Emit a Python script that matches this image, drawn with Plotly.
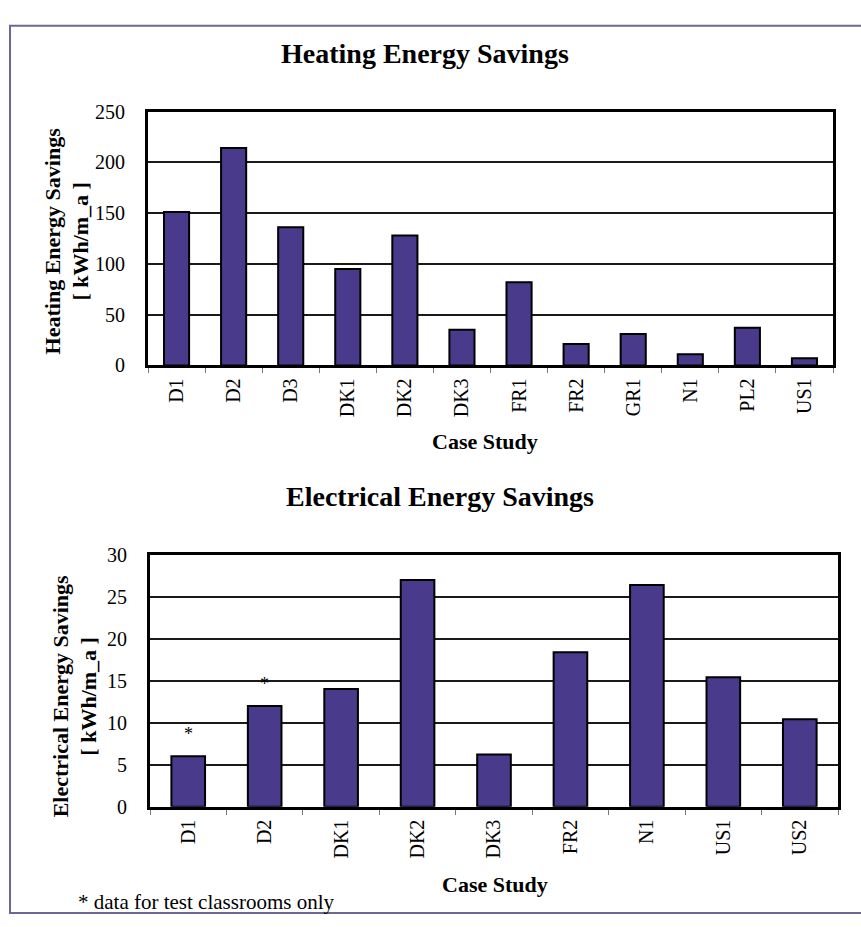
import plotly.graph_objects as go

# ---- data ----
heat_cases = ["D1", "D2", "D3", "DK1", "DK2", "DK3", "FR1", "FR2", "GR1", "N1", "PL2", "US1"]
heat_values = [151, 214, 136, 95, 128, 35, 82, 21, 31, 11, 37, 7]

elec_cases = ["D1", "D2", "DK1", "DK2", "DK3", "FR2", "N1", "US1", "US2"]
elec_values = [6.0, 12.0, 14.0, 27.0, 6.2, 18.4, 26.4, 15.4, 10.4]
elec_test_only = ["D1", "D2"]

heat_ticks = [0, 50, 100, 150, 200, 250]
elec_ticks = [0, 5, 10, 15, 20, 25, 30]

W, H = 861, 927
FONT = "Liberation Serif, Times New Roman, serif"
BAR = "#4a3a8c"

fig = go.Figure()
fig.add_trace(go.Bar(x=heat_cases, y=heat_values, xaxis="x", yaxis="y",
                     marker=dict(color=BAR, line=dict(color="black", width=2)),
                     width=0.44, showlegend=False))
fig.add_trace(go.Bar(x=elec_cases, y=elec_values, xaxis="x2", yaxis="y2",
                     marker=dict(color=BAR, line=dict(color="black", width=2)),
                     width=0.44, showlegend=False))

def px(x):
    return x / W

def py(y):
    return 1 - y / H

xcommon = dict(type="category", showline=True, linecolor="black", linewidth=3, mirror=True,
               ticks="outside", tickson="boundaries", ticklen=5, tickcolor="#777", tickwidth=1,
               tickangle=-90, showgrid=False, ticklabelstandoff=2,
               tickfont=dict(family=FONT, size=20, color="black"))
ycommon = dict(showline=True, linecolor="black", linewidth=3, mirror=True,
               showgrid=True, gridcolor="#1a1a1a", gridwidth=2, ticks="", zeroline=False,
               ticklabelstandoff=16,
               tickfont=dict(family=FONT, size=20, color="black"))

fig.update_layout(
    width=W, height=H,
    margin=dict(l=0, r=0, t=0, b=0),
    paper_bgcolor="white", plot_bgcolor="white",
    xaxis=dict(domain=[px(148), px(833)], anchor="y", **xcommon),
    yaxis=dict(domain=[py(363), py(103)], anchor="x", range=[0, 250], tickvals=heat_ticks, **ycommon),
    xaxis2=dict(domain=[px(150), px(838)], anchor="y2", **xcommon),
    yaxis2=dict(domain=[py(815), py(557)], anchor="x2", range=[0, 30], tickvals=elec_ticks, **ycommon),
)

ann = []
def text(x, y, t, size, bold=False, angle=0, xanchor="center"):
    ann.append(dict(x=px(x), y=py(y), xref="paper", yref="paper", text=("<b>%s</b>" % t) if bold else t,
                    showarrow=False, textangle=angle, xanchor=xanchor, yanchor="middle",
                    font=dict(family=FONT, size=size, color="black")))

text(425, 44, "Heating Energy Savings", 28, bold=True)
text(440, 497, "Electrical Energy Savings", 28, bold=True)
text(67, 236, "Heating Energy Savings<br>[ kWh/m_a ]", 22, bold=True, angle=-90)
text(75, 702, "Electrical Energy Savings<br>[ kWh/m_a ]", 22, bold=True, angle=-90)
text(485, 441, "Case Study", 22, bold=True)
text(495, 895, "Case Study", 22, bold=True)
text(76, 913, "* data for test classrooms only", 21, xanchor="left")

for c in elec_test_only:
    v = elec_values[elec_cases.index(c)]
    ann.append(dict(x=c, y=v, xref="x2", yref="y2", text="*", showarrow=False,
                    yanchor="bottom", yshift=10, font=dict(family=FONT, size=18, color="black")))

fig.update_layout(annotations=ann)

fig.add_shape(type="rect", xref="paper", yref="paper",
              x0=px(10), x1=px(880), y0=py(924), y1=py(15),
              line=dict(color="#6d6794", width=2), fillcolor="rgba(0,0,0,0)", layer="below")

page_css = ("document.documentElement.style.margin='0';document.body.style.margin='0';"
            "document.body.style.padding='0';document.documentElement.style.overflow='hidden';"
            "document.body.style.overflow='hidden';")

fig.write_html("out.html", post_script=page_css, config={"displayModeBar": False})
